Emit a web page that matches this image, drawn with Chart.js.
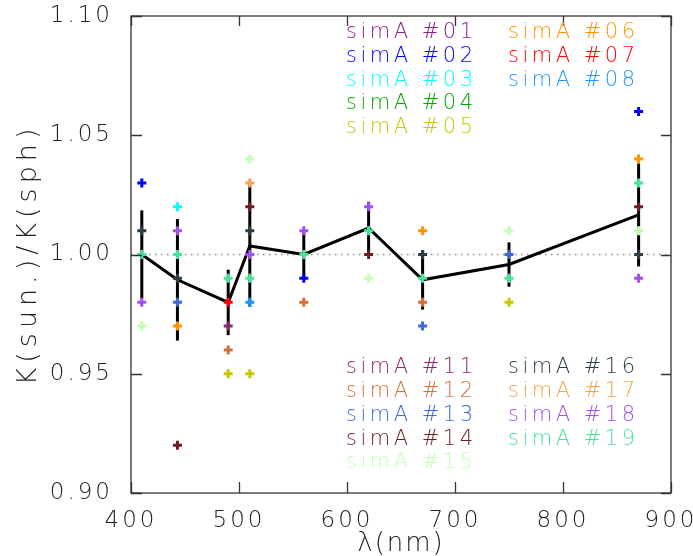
<!DOCTYPE html>
<html>
<head>
<meta charset="utf-8">
<script src="https://cdn.jsdelivr.net/npm/chart.js@4/dist/chart.umd.min.js"></script>
<style>
html,body{margin:0;padding:0;background:#fff;}
#wrap{width:693px;height:556px;}
</style>
</head>
<body>
<div id="wrap"><canvas id="c" width="693" height="556"></canvas></div>
<script>
// ---- data ----
const wavelengths = [410, 443, 490, 510, 560, 620, 670, 750, 870];
const meanRatio   = [1.000, 0.9894, 0.9799, 1.0036, 1.000, 1.0111, 0.9894, 0.9958, 1.0166];
const errHalf     = [0.0185, 0.0255, 0.0137, 0.0255, 0.0098, 0.0110, 0.0125, 0.0093, 0.0216];
const xTicks = [400, 500, 600, 700, 800, 900];
const yTicks = [0.90, 0.95, 1.00, 1.05, 1.10];

const simNames  = ['simA #01','simA #02','simA #03','simA #04','simA #05','simA #06','simA #07','simA #08',
                   'simA #11','simA #12','simA #13','simA #14','simA #15','simA #16','simA #17','simA #18','simA #19'];
const simColors = ['#8b1a8b','#0000ff','#00ffff','#00a800','#c8c800','#ff9400','#ff0000','#1e96ff',
                   '#8a2a6e','#d4703a','#3c6ad2','#6e1e1e','#c4ffb4','#2a3e48','#f2a450','#a050f0','#46e696'];
// [wavelength, ratio] pairs for each simulation
const sim01 = [];
const sim02 = [[410,1.03],[560,0.99],[870,1.06]];
const sim03 = [[443,1.02]];
const sim04 = [];
const sim05 = [[490,0.95],[510,0.95],[750,0.98]];
const sim06 = [[443,0.97],[670,1.01],[870,1.04]];
const sim07 = [[490,0.98]];
const sim08 = [[510,0.98]];
const sim11 = [[490,0.97]];
const sim12 = [[490,0.96],[560,0.98],[670,0.98]];
const sim13 = [[443,0.98],[670,0.97],[750,1.00]];
const sim14 = [[443,0.92],[510,1.02],[620,1.00],[870,1.02]];
const sim15 = [[410,0.97],[510,1.04],[620,0.99],[750,1.01],[870,1.01]];
const sim16 = [[410,1.01],[443,0.99],[510,1.01],[670,1.00],[870,1.00]];
const sim17 = [[510,1.03]];
const sim18 = [[410,0.98],[443,1.01],[510,1.00],[560,1.01],[620,1.02],[870,0.99]];
const sim19 = [[410,1.00],[443,1.00],[490,0.99],[510,0.99],[560,1.00],[620,1.01],[670,0.99],[750,0.99],[870,1.03]];
const simData = [sim01,sim02,sim03,sim04,sim05,sim06,sim07,sim08,sim11,sim12,sim13,sim14,sim15,sim16,sim17,sim18,sim19];

// ---- styling / layout ----
const FONT = 'DejaVu Sans, Lato, sans-serif';
const PLOT = {left:131, top:16, right:671, bottom:493, W:693, H:556};
const legendPos = [];
(function(){
  for (let i=0;i<5;i++) legendPos.push([346, 33 + i*23.6]);
  for (let i=0;i<3;i++) legendPos.push([508, 33 + i*23.6]);
  for (let i=0;i<5;i++) legendPos.push([346, 368 + i*23.7]);
  for (let i=0;i<4;i++) legendPos.push([508, 368 + i*23.7]);
})();
const titleSpacing = {x:'2px', y:'5px'};

const datasets = [];
simData.forEach((arr, i) => {
  datasets.push({
    label: simNames[i],
    data: arr.map(p => ({x:p[0], y:p[1]})),
    pointStyle: 'cross',
    pointRadius: 4.5,
    pointBorderWidth: 3,
    borderColor: simColors[i],
    backgroundColor: simColors[i],
    showLine: false,
    order: 1
  });
});
datasets.push({
  label: 'mean',
  data: wavelengths.map((w,i) => ({x:w, y:meanRatio[i]})),
  showLine: true,
  borderColor: '#000',
  borderWidth: 3,
  pointRadius: 0,
  order: 50
});
datasets.push({
  label: 'unity',
  data: [{x:xTicks[0], y:1.0},{x:xTicks[xTicks.length-1], y:1.0}],
  showLine: true,
  borderColor: '#8a8a8a',
  borderWidth: 1.3,
  borderDash: [1.5, 4.5],
  pointRadius: 0,
  order: 100
});

const setSpacing = {
  id:'spacing',
  beforeUpdate(chart){ chart.ctx.letterSpacing = '3px'; },
  afterUpdate(chart){
    ['x','y'].forEach(id => {
      const s = chart.scales[id];
      if (s && !s._lsPatched) {
        const orig = s.drawTitle.bind(s);
        s.drawTitle = function(){
          const c = this.ctx, prev = c.letterSpacing;
          c.letterSpacing = titleSpacing[id];
          orig();
          c.letterSpacing = prev;
        };
        s._lsPatched = true;
      }
    });
  },
  beforeDraw(chart){ chart.ctx.letterSpacing = '3px'; }
};

const errorBars = {
  id:'errorBars',
  beforeDatasetsDraw(chart){
    const ctx = chart.ctx, xs = chart.scales.x, ys = chart.scales.y;
    ctx.save();
    ctx.strokeStyle = '#000';
    ctx.lineWidth = 3;
    wavelengths.forEach((w,i) => {
      const px = xs.getPixelForValue(w);
      ctx.beginPath();
      ctx.moveTo(px, ys.getPixelForValue(meanRatio[i] + errHalf[i]));
      ctx.lineTo(px, ys.getPixelForValue(meanRatio[i] - errHalf[i]));
      ctx.stroke();
    });
    ctx.restore();
  }
};

const frame = {
  id:'frame',
  afterDraw(chart){
    const ctx = chart.ctx, a = chart.chartArea, xs = chart.scales.x, ys = chart.scales.y;
    ctx.save();
    ctx.strokeStyle = '#333';
    ctx.lineWidth = 1.3;
    ctx.strokeRect(a.left, a.top, a.right - a.left, a.bottom - a.top);
    ctx.beginPath();
    xTicks.forEach(v => {
      const px = Math.round(xs.getPixelForValue(v)) + 0.5;
      ctx.moveTo(px, a.bottom); ctx.lineTo(px, a.bottom - 11);
      ctx.moveTo(px, a.top); ctx.lineTo(px, a.top + 10);
    });
    yTicks.forEach(v => {
      const py = Math.round(ys.getPixelForValue(v)) + 0.5;
      ctx.moveTo(a.left, py); ctx.lineTo(a.left + 11, py);
      ctx.moveTo(a.right, py); ctx.lineTo(a.right - 10, py);
    });
    ctx.stroke();
    // legend text
    ctx.letterSpacing = '3.5px';
    ctx.font = '200 21px ' + FONT;
    ctx.textBaseline = 'middle';
    ctx.textAlign = 'left';
    simNames.forEach((n,i) => {
      ctx.fillStyle = simColors[i];
      ctx.fillText(n, legendPos[i][0], legendPos[i][1]);
    });
    ctx.restore();
  }
};

const zeroPad = s => { s.paddingLeft = 0; s.paddingRight = 0; s.paddingTop = 0; s.paddingBottom = 0; };

new Chart(document.getElementById('c'), {
  type: 'scatter',
  data: { datasets },
  options: {
    responsive: false,
    animation: false,
    devicePixelRatio: 1,
    layout: { autoPadding: false, padding: {left:0, top:PLOT.top, right:PLOT.W - PLOT.right, bottom:0} },
    plugins: { legend:{display:false}, tooltip:{enabled:false} },
    scales: {
      x: {
        type:'linear', min:400, max:900,
        afterBuildTicks: s => { s.ticks = xTicks.map(v => ({value:v})); },
        afterFit: s => { s.height = PLOT.H - PLOT.bottom; zeroPad(s); },
        grid: { display:false, drawTicks:false },
        border: { display:false },
        ticks: { color:'#222', padding:14, font:{family:FONT, size:23, weight:'200'}, maxRotation:0 },
        title: { display:true, text:'λ(nm)', color:'#222', padding:{top:0,bottom:-4}, font:{family:FONT, size:26, weight:'200'} }
      },
      y: {
        type:'linear', min:0.90, max:1.10,
        afterBuildTicks: s => { s.ticks = yTicks.map(v => ({value:v})); },
        afterFit: s => { s.width = PLOT.left; zeroPad(s); },
        grid: { display:false, drawTicks:false },
        border: { display:false },
        ticks: { color:'#222', padding:18, font:{family:FONT, size:23, weight:'200'}, callback: v => Number(v).toFixed(2) },
        title: { display:true, text:'K(sun.)/K(sph)', color:'#222', padding:{top:13,bottom:0}, font:{family:FONT, size:27, weight:'200'} }
      }
    }
  },
  plugins: [setSpacing, errorBars, frame]
});
</script>
</body>
</html>
